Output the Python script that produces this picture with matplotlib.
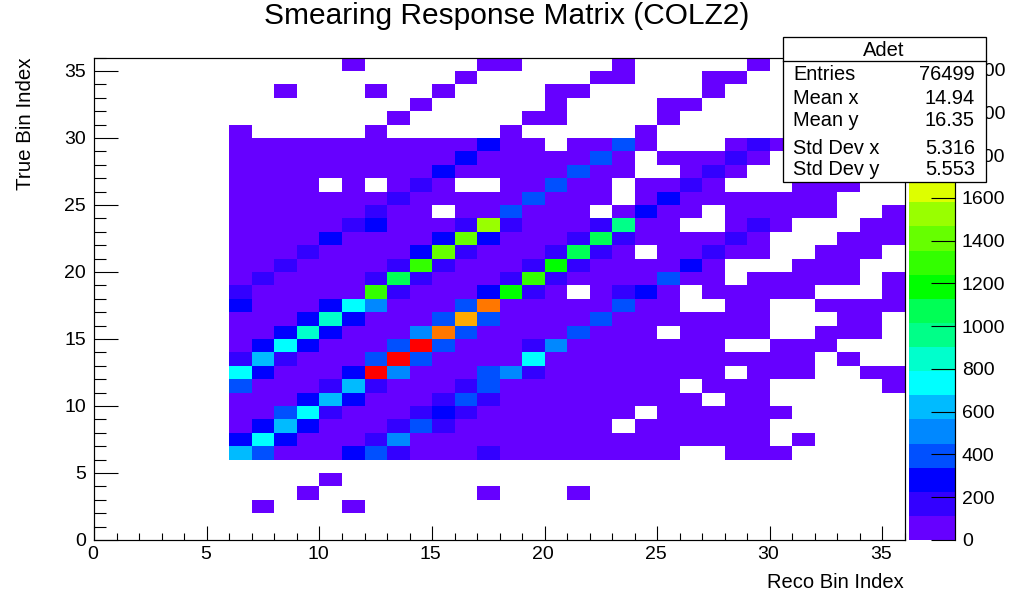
import numpy as np
import matplotlib
matplotlib.use("Agg")
import matplotlib.pyplot as plt
from matplotlib.colors import ListedColormap, BoundaryNorm
from matplotlib.patches import Rectangle
from matplotlib.lines import Line2D
from matplotlib.transforms import ScaledTranslation

plt.rcParams['font.family'] = ['Liberation Sans', 'DejaVu Sans']

W, H = 1010, 594

title = "Smearing Response Matrix (COLZ2)"
x_label = "Reco Bin Index"
y_label = "True Bin Index"
stats_name = "Adet"
stats_labels = ["Entries", "Mean x", "Mean y", "Std Dev x", "Std Dev y"]
stats_values = ["76499", "14.94", "16.35", "5.316", "5.553"]
major_ticks = [0, 5, 10, 15, 20, 25, 30, 35]
minor_ticks = [i for i in range(0, 37) if i % 5]
cbar_ticks = [0, 200, 400, 600, 800, 1000, 1200, 1400, 1600, 1800, 2000, 2200]
z_max = 2257
n_bins = 36
first_col = 6

palette = ['#6600ff', '#3300ff', '#0000ff', '#0050ff', '#0088ff', '#00bbff', '#00ffff',
           '#00ffcc', '#00ff88', '#00ff55', '#00ff00', '#33ff00', '#66ff00', '#99ff00',
           '#ddff00', '#ffff00', '#ffdd00', '#ffaa00', '#ff7700', '#ff0000']

# counts per true bin (row), reco bins 6..35; top row first (true bin 35 down to 0)
counts_top = [
 [0,0,0,0,0, 50,0,0,0,0, 0,50,50,0,0, 0,0,50,0,0, 0,0,0,50,0, 0,0,0,0,0],
 [0,0,0,0,0, 0,0,0,0,0, 50,0,0,0,0, 0,50,50,0,0, 0,50,50,0,0, 0,0,0,0,0],
 [0,0,50,0,0, 0,50,0,0,50, 0,0,0,0,50, 50,0,0,0,0, 0,50,0,0,0, 0,0,0,0,0],
 [0,0,0,0,0, 0,0,0,50,0, 0,0,0,0,50, 0,0,0,0,50, 50,0,0,0,0, 0,0,0,0,0],
 [0,0,0,0,0, 0,0,50,0,0, 0,0,0,50,50, 0,0,0,0,50, 0,0,0,0,0, 0,0,0,0,0],
 [50,0,0,0,0, 0,50,0,0,0, 0,0,50,0,0, 0,0,0,50,0, 0,0,0,0,0, 0,0,0,0,0],
]
counts_upper = [
 [50,50,50,50,50, 50,50,50,50,50, 50,280,50,50,0, 50,50,400,50,0, 0,0,50,170,50, 0,0,0,0,0],
 [50,50,50,50,50, 50,50,50,50,50, 280,50,50,50,50, 50,400,50,0,50, 50,50,170,50,0, 0,0,0,0,0],
 [50,50,50,50,50, 50,50,50,50,280, 50,50,50,50,50, 400,50,50,0,0, 50,170,50,0,0, 0,0,0,0,0],
 [50,50,50,50,0, 50,0,50,170,50, 0,0,50,50,400, 50,50,0,50,50, 170,50,0,0,0, 50,50,50,0,0],
 [50,50,50,50,50, 50,50,170,50,50, 50,50,50,400,50, 50,50,0,50,280, 50,50,50,50,50, 50,50,0,0,0],
 [50,50,50,50,50, 50,170,50,50,0, 50,50,400,50,50, 50,0,50,280,50, 50,0,50,50,50, 50,50,0,0,50],
 [50,50,50,50,50, 170,280,50,50,50, 170,1530,170,50,50, 50,170,960,50,50, 0,0,50,170,50, 0,0,0,50,50],
 [50,50,50,50,280, 50,50,50,50,280, 1410,280,50,50,50, 170,1070,170,50,50, 50,50,170,50,0, 0,0,50,50,50],
 [50,50,50,170,50, 50,50,50,280,1410, 170,50,50,50,170, 1070,170,50,0,50, 50,170,50,50,0, 0,50,50,50,0],
 [50,50,170,50,50, 50,50,170,1300,170, 50,50,50,170,1190, 170,50,50,50,50, 280,50,0,0,0, 50,50,50,0,0],
 [50,170,50,50,50, 50,170,1070,170,50, 50,50,170,1300,170, 50,50,50,50,400, 50,50,0,50,50, 50,50,50,0,50],
 [170,50,50,50,50, 50,1300,170,50,50, 50,280,1190,170,50, 0,50,170,280,50, 0,50,50,50,50, 50,0,0,0,50],
]
counts_lower = [
 [280,50,50,50,280, 730,510,50,50,50, 400,2090,50,50,50, 50,50,400,50,50, 0,0,50,50,0, 0,50,50,50,50],
 [50,50,50,280,850, 280,50,50,50,400, 1980,400,50,50,50, 50,400,50,50,50, 50,50,50,50,0, 0,0,50,50,0],
 [50,50,280,850,280, 50,50,50,510,2090, 400,50,50,50,50, 400,50,50,50,0, 50,50,50,50,0, 0,50,50,50,0],
 [50,280,730,280,50, 50,50,400,2200,400, 50,50,50,170,510, 50,50,50,50,50, 50,50,0,0,50, 50,50,0,0,0],
 [170,620,170,50,50, 50,400,2200,400,50, 50,50,50,730,50, 50,50,50,50,50, 50,50,50,50,50, 50,0,50,0,0],
 [730,280,50,50,50, 280,2200,510,50,50, 50,400,510,170,50, 50,50,50,50,50, 50,50,0,50,50, 50,0,0,50,50],
 [400,50,50,50,170, 620,170,50,50,50, 170,400,50,50,50, 50,50,50,50,50, 0,50,50,50,0, 0,0,0,0,50],
 [50,50,50,280,620, 280,50,50,50,170, 400,170,50,50,50, 50,50,50,50,50, 50,0,50,50,0, 0,0,0,0,0],
 [50,50,400,730,170, 50,50,50,170,280, 170,50,50,50,50, 50,50,50,0,50, 50,50,50,50,50, 0,0,0,0,0],
 [50,280,620,280,50, 50,50,170,400,170, 50,50,50,50,50, 50,50,0,50,50, 50,50,50,50,0, 0,0,0,0,0],
 [280,730,280,50,50, 50,170,510,50,50, 50,50,50,50,50, 50,50,50,50,50, 50,50,50,50,0, 50,0,0,0,0],
 [620,400,50,50,50, 280,400,170,50,50, 50,170,50,50,50, 50,50,50,50,50, 0,0,50,50,50, 0,0,0,0,0],
]
counts_bottom = [
 [0,0,0,0,0, 0,0,0,0,0, 0,0,0,0,0, 0,0,0,0,0, 0,0,0,0,0, 0,0,0,0,0],
 [0,0,0,0,50, 0,0,0,0,0, 0,0,0,0,0, 0,0,0,0,0, 0,0,0,0,0, 0,0,0,0,0],
 [0,0,0,50,0, 0,0,0,0,0, 0,50,0,0,0, 50,0,0,0,0, 0,0,0,0,0, 0,0,0,0,0],
 [0,50,0,0,0, 50,0,0,0,0, 0,0,0,0,0, 0,0,0,0,0, 0,0,0,0,0, 0,0,0,0,0],
 [0]*30,
 [0]*30,
]


def px(l):  # length in pixels to points
    return l * 72 / 100


grid = np.array(counts_top + counts_upper + counts_lower + counts_bottom, dtype=float)[::-1]
masked = np.ma.masked_equal(grid, 0)
x_edges = np.arange(first_col, n_bins + 1)
y_edges = np.arange(0, n_bins + 1)

fig = plt.figure(figsize=(W / 100, H / 100), dpi=100, facecolor='white')
L, R, T, B = 94.3, 905.0, 57.5, 540.0
ax = fig.add_axes([L / W, 1 - B / H, (R - L) / W, (B - T) / H])

cmap = ListedColormap(palette)
levels = np.linspace(0, z_max, len(palette) + 1)
norm = BoundaryNorm(levels, len(palette))
mesh = ax.pcolormesh(x_edges, y_edges, masked, cmap=cmap, norm=norm, linewidth=0)
ax.set_xlim(0, n_bins)
ax.set_ylim(0, n_bins)
ax.set_xticks(major_ticks)
ax.set_yticks(major_ticks)
ax.set_xticks(minor_ticks, minor=True)
ax.set_yticks(minor_ticks, minor=True)
ax.tick_params(axis='x', which='major', direction='in', length=px(14), width=px(1.1), labelsize=14, pad=4)
ax.tick_params(axis='x', which='minor', direction='in', length=px(7), width=px(1.1))
ax.tick_params(axis='y', which='major', direction='in', length=px(24), width=px(1.1), labelsize=14, pad=6)
ax.tick_params(axis='y', which='minor', direction='in', length=px(12), width=px(1.1))
shift = ScaledTranslation(-1.5 / 100, 0, fig.dpi_scale_trans)
for lab in ax.get_xticklabels():
    lab.set_transform(lab.get_transform() + shift)
for s in ax.spines.values():
    s.set_linewidth(px(1.2))
    s.set_zorder(5)

cax = fig.add_axes([909 / W, 1 - B / H, (955 - 909) / W, (B - T) / H])
cb = fig.colorbar(mesh, cax=cax, ticks=cbar_ticks, spacing='proportional')
cb.outline.set_visible(False)
cax.spines['right'].set_visible(True)
cax.spines['right'].set_linewidth(px(1.2))
cax.spines['right'].set_color('black')
cax.tick_params(axis='y', which='major', direction='in', length=px(24), width=px(1.1), labelsize=14, pad=5)
cax.minorticks_off()
cax.set_yticks(cbar_ticks)
cax.set_yticklabels([str(v) for v in cbar_ticks])

fig.text(507 / W, 1 - 16 / H, title, fontsize=21.5, ha='center', va='center', color='black')
fig.text(904 / W, 1 - 582 / H, x_label, fontsize=14.5, ha='right', va='center')
fig.text(26 / W, 1 - 58 / H, y_label, fontsize=14.8, rotation=90, ha='center', va='top')

box = Rectangle((783 / W, 1 - 181.5 / H), (986 - 783) / W, (181.5 - 37) / H, transform=fig.transFigure,
                facecolor='white', edgecolor='black', linewidth=px(1.3), zorder=20)
fig.add_artist(box)
fig.add_artist(Line2D([783 / W, 986 / W], [1 - 61 / H, 1 - 61 / H], transform=fig.transFigure,
                      color='black', linewidth=px(1.3), zorder=21))
fig.text(884 / W, 1 - 50 / H, stats_name, fontsize=14.5, ha='center', va='center', zorder=22)
row_y = [74, 98, 121, 148, 170]
for lab, val, y in zip(stats_labels, stats_values, row_y):
    fig.text(793 / W, 1 - y / H, lab, fontsize=14.4, ha='left', va='center', zorder=22)
    fig.text(975 / W, 1 - y / H, val, fontsize=14.4, ha='right', va='center', zorder=22)

fig.savefig('out.png', dpi=100, facecolor='white')
